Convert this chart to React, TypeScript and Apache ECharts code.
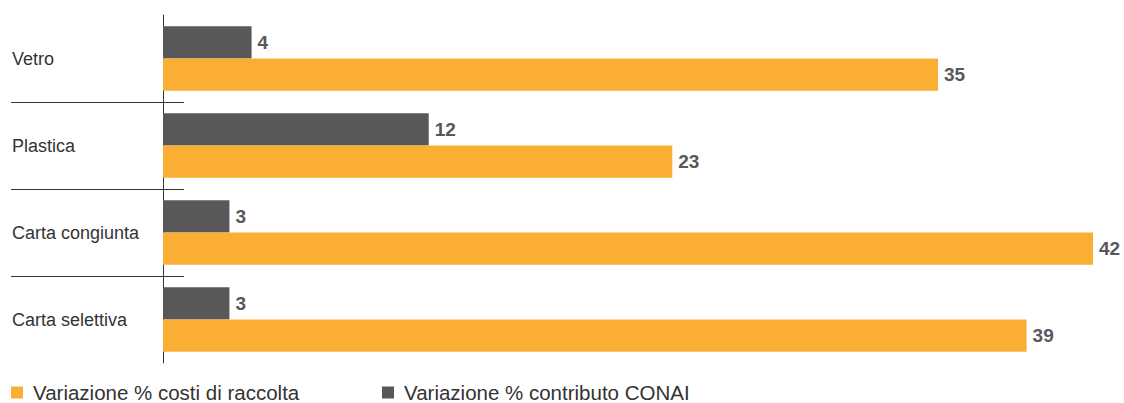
import React, { useEffect, useRef } from "react";
import * as echarts from "echarts";

const categories = ["Vetro", "Plastica", "Carta congiunta", "Carta selettiva"];
const contributoConai = [4, 12, 3, 3];
const costiRaccolta = [35, 23, 42, 39];
const seriesNames = ["Variazione % costi di raccolta", "Variazione % contributo CONAI"];

const ORANGE = "#FAAF34";
const GRAY = "#58585A";
const FONT = "'Liberation Sans', Arial, sans-serif";

export default function App() {
  const ref = useRef<HTMLDivElement>(null);
  useEffect(() => {
    if (!ref.current) return;
    const chart = echarts.init(ref.current, null, { renderer: "svg" });
    const maxVal = Math.max(...costiRaccolta, ...contributoConai);
    const labelCfg = {
      show: true,
      position: "right",
      distance: 6,
      color: "#58585A",
      fontSize: 19,
      fontWeight: "bold",
      fontFamily: FONT,
    };
    const legendBase = {
      top: 382,
      padding: 0,
      itemWidth: 12,
      itemHeight: 12,
      icon: "rect",
      textStyle: {
        color: "#333",
        fontSize: 20.5,
        lineHeight: 18,
        fontFamily: FONT,
        padding: [0, 0, 0, 5],
      },
    };
    chart.setOption({
      animation: false,
      grid: { left: 163, right: 31, top: 15, bottom: 40, containLabel: false },
      xAxis: {
        type: "value",
        min: 0,
        max: maxVal,
        show: false,
      },
      yAxis: {
        type: "category",
        data: categories,
        inverse: true,
        offset: 3,
        axisLine: { show: true, lineStyle: { color: "#333", width: 1 } },
        axisTick: { show: false },
        axisLabel: {
          align: "left",
          margin: 148,
          color: "#333",
          fontSize: 18,
          fontFamily: FONT,
        },
        splitLine: { show: false },
      },
      legend: [
        { ...legendBase, data: [seriesNames[0]], left: 11 },
        { ...legendBase, data: [seriesNames[1]], left: 382 },
      ],
      series: [
        {
          name: seriesNames[1],
          type: "bar",
          data: contributoConai,
          itemStyle: { color: GRAY },
          barGap: "0%",
          barCategoryGap: "26%",
          label: labelCfg,
        },
        {
          name: seriesNames[0],
          type: "bar",
          data: costiRaccolta,
          itemStyle: { color: ORANGE },
          barGap: "0%",
          barCategoryGap: "26%",
          label: labelCfg,
        },
      ],
    });
    // separators between categories
    const lines: any[] = [];
    for (let i = 0; i < categories.length - 1; i++) {
      const y1 = chart.convertToPixel({ yAxisIndex: 0 }, categories[i]) as number;
      const y2 = chart.convertToPixel({ yAxisIndex: 0 }, categories[i + 1]) as number;
      const y = Math.round((y1 + y2) / 2) + 0.5;
      lines.push({
        type: "line",
        shape: { x1: 11, y1: y, x2: 184, y2: y },
        style: { stroke: "#333", lineWidth: 1 },
      });
    }
    chart.setOption({ graphic: lines });
    return () => chart.dispose();
  }, []);
  return (
    <div
      ref={ref}
      style={{ position: "absolute", left: 0, top: 0, width: 1124, height: 403, background: "#fff" }}
    />
  );
}
